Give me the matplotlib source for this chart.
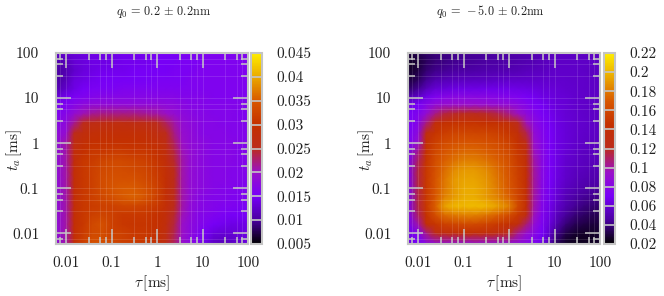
import matplotlib
matplotlib.use('Agg')
import matplotlib.pyplot as plt
from matplotlib.colors import LinearSegmentedColormap
import numpy as np

plt.rcParams['font.family'] = ['cmr10', 'DejaVu Serif']
plt.rcParams['mathtext.fontset'] = 'cm'
plt.rcParams['axes.formatter.use_mathtext'] = True

W, H = 664, 296
tau_grid = [0.006, 0.01, 0.0151, 0.024, 0.038, 0.0631, 0.1, 0.178, 0.316, 0.562, 1,
            1.58, 2.4, 3.55, 5.25, 7.94, 11.2, 17.8, 28.2, 44.7, 70.8, 100]
ta_grid = [100, 63.1, 39.8, 25.1, 15.8, 10.6, 7.08, 4.47, 2.82, 1.67, 1.0, 0.631, 0.398, 0.251,
           0.158, 0.1, 0.0631, 0.0398, 0.0251, 0.0158, 0.01, 0.0058]

# values x 1000, rows from ta = 100 down to ta = 0.0058
left_values = [
 [12.5,13,13,13.5,14,14,14,14.5,14.5,14.5,15,15,15,15.5,15.5,15.5,16,16,16,16,16,16],
 [10.5,11.5,13,13.5,14,14,14,14.5,14.5,14.5,15,15,15,15.5,15.5,15.5,16,16,16,16,16,16],
 [10,11,12.5,13.5,14,14.5,14.5,14.5,15,15,15,15,15.5,15.5,15.5,16,16,16,16,16,16,16],
 [10,11.5,13.5,14,14.5,15,15,15,15,15,15.5,15.5,15.5,15.5,16,16,16,16,16,16,16,16],
 [11,12.5,14,15,15.5,15.5,15.5,16,16,16,16,16,16,16,16,16,16,16,16,16,16,16],
 [13,14.5,15.5,16,16.5,17,17,17,17,17,17,17,17,16.5,16.5,16.5,16.5,16,16,16,16,16],
 [15,16,17,18,18.5,18.5,18.5,18.5,18.5,18.5,18.5,18,18,17.5,17,17,16.5,16.5,16.5,16.5,16.5,16],
 [16,17,19,20.5,21.5,22,22,22,22,21.5,21,20,19,18,17.5,17,17,16.5,16.5,16.5,16,16],
 [17,18,21.5,25,26,26.5,27,27,26.5,26,25,23,21,19,18,17.5,17,17,16.5,16.5,16.5,16],
 [18,19,25,27.5,28.5,29,29,29,29,28.5,27,25,22,19.5,18.5,17.5,17,17,17,16.5,16.5,16.5],
 [18,21,27,29,30,30,30,30,30,29.5,28.5,26.5,23,20,18.5,18,17.5,17,17,17,16.5,16.5],
 [18,21,28,30,31,31,31.5,31.5,31,31,30,27.5,24,20.5,19,18,17.5,17,17,17,16.5,16.5],
 [18,21,28,31,31.5,32.5,33,33,32.5,32,30.5,28,24.5,21,19,18,17.5,17,17,17,16.5,16.5],
 [18,21,28.5,31,32,33,33.5,33.5,33,32.5,31,28.5,25,21,19,18,17.5,17,17,16.5,16.5,16.5],
 [18,21,28.5,31,32,33.5,34,34,34,33,31.5,29,25,21,19,18,17.5,17,17,16.5,16.5,16],
 [18,21,28.5,31,32,33.5,34.5,35,35,34,32,29,25,21,19,18,17.5,17,16.5,16.5,16,16],
 [18,21,28.5,31,32,33,34,35,35.5,34.5,32,29,25,21,19,17.5,17,16.5,16.5,16,16,15.5],
 [18,21,28.5,31,31.5,32,32,32.5,32.5,32,31,28.5,25,21,18.5,17.5,17,16.5,16,16,15.5,15.5],
 [18,21,29,31,32,32.5,32,31,31,31,30,28,24.5,20.5,18.5,17,16.5,16,15.5,15,15,15],
 [18,21,29,31,33,34,32,31,30.5,30.5,30,27.5,24,20,18,17,16,15,14.5,14,14,14],
 [18,21,29,31.5,33,33.5,32,32,31,31,29.5,27,23.5,20,18,16.5,15,13.5,13,13,13.5,14],
 [18,21,29,32,34,34,33,32,31.5,31,29,26.5,23,19.5,17.5,16,14,12,11.5,12,13,13.5],
]

# values x 100
right_values = [
 [3,3.3,3.6,3.9,4.1,4.2,4.3,4.4,4.5,4.6,4.7,4.8,4.9,5,5.2,5.3,5.4,5.5,5.5,5.5,5.5,5.5],
 [2.6,3,3.5,3.9,4.1,4.3,4.4,4.5,4.6,4.7,4.8,4.9,5,5.1,5.3,5.5,5.6,5.6,5.6,5.6,5.6,5.5],
 [2.7,3.1,3.8,4.2,4.4,4.6,4.7,4.8,4.9,5,5.1,5.2,5.3,5.4,5.5,5.6,5.7,5.7,5.7,5.6,5.5,5.5],
 [3,3.5,4.3,4.9,5.2,5.3,5.4,5.5,5.5,5.6,5.7,5.7,5.7,5.7,5.8,5.8,5.8,5.8,5.7,5.7,5.6,5.5],
 [3.7,4.4,5.3,6,6.2,6.4,6.5,6.5,6.6,6.6,6.6,6.5,6.4,6.3,6.2,6.1,6,5.9,5.8,5.7,5.6,5.5],
 [5,5.7,6.6,7.5,8,8.2,8.2,8.2,8.1,7.9,7.7,7.4,7.1,6.8,6.5,6.3,6.1,6,5.8,5.7,5.6,5.5],
 [6.4,7,8,8.8,9.2,9.4,9.4,9.4,9.2,9,8.8,8.4,7.8,7.3,6.9,6.5,6.2,6,5.8,5.7,5.6,5.5],
 [7,7.6,9,10.5,11.5,11.8,12,12,11.8,11.3,10.5,9.6,8.6,7.8,7.2,6.7,6.3,6,5.9,5.7,5.6,5.5],
 [7,8,10.5,13.5,14.3,14.6,14.7,14.7,14.5,14.2,13.7,12,9.8,8.4,7.5,6.9,6.4,6.1,5.9,5.8,5.6,5.5],
 [7,8.5,13,14.8,15.3,15.7,15.8,15.8,15.7,15.4,14.8,13.6,11.3,8.9,7.8,7,6.5,6.1,5.9,5.7,5.6,5.5],
 [7,9.5,14.2,15.5,16.2,16.6,16.8,16.8,16.6,16.2,15.5,14.4,12.5,9.4,8,7.1,6.5,6.1,5.8,5.6,5.5,5.4],
 [7,10.5,14.6,16,16.8,17.3,17.5,17.5,17.2,16.7,16,14.9,13.3,9.7,8.1,7.1,6.5,6,5.7,5.5,5.4,5.3],
 [7,11,14.8,16.3,17.2,17.8,18.2,18.2,17.8,17.2,16.4,15.2,13.7,10,8.2,7.1,6.5,5.9,5.6,5.4,5.3,5.2],
 [7,11.5,15,16.5,17.6,18.6,19,19,18.5,17.6,16.6,15.4,13.9,10.2,8.2,7.1,6.4,5.8,5.5,5.3,5.1,5],
 [7,11.5,15,16.7,17.9,19,19.3,19.3,18.8,17.8,16.7,15.5,14,10.2,8.2,7,6.3,5.7,5.3,5.1,4.9,4.8],
 [7,11.5,15,16.8,18,19,19.5,19.5,19,18,16.9,15.6,14,10.2,8.1,6.9,6.2,5.5,5.1,4.8,4.6,4.5],
 [7,11.5,15,16.9,18.2,19.1,19.6,19.6,19,18.2,17.2,15.7,14,10.1,8,6.8,6,5.2,4.7,4.4,4.2,4.1],
 [7,11.5,15,17.2,19.2,20,20,20.2,20,19.2,18.2,16,14,10,7.9,6.6,5.7,4.9,4.4,4,3.8,3.7],
 [7,11,14.6,16.3,17.6,18,18.2,18.2,17.8,17.2,16.2,15,13,9.7,7.7,6.4,5.4,4.5,3.9,3.6,3.4,3.3],
 [6.8,10,13.8,14.8,15.5,15.8,16,16,15.6,15,14.3,13.2,10.8,9,7.4,6.1,4.9,3.9,3.4,3.1,3,3],
 [6.6,7.5,10.5,12.5,13.3,13.7,13.9,13.9,13.6,13,12,10.3,9.2,8.2,7,5.6,4.2,3.2,2.8,2.7,2.7,2.8],
 [6.5,7,8,8.5,8.8,9,9,9,9,8.9,8.6,8.4,8,7.4,6.5,5,3.4,2.6,2.4,2.5,2.6,2.7],
]

left_ticks = [0.005, 0.01, 0.015, 0.02, 0.025, 0.03, 0.035, 0.04, 0.045]
left_tick_labels = ['0.005', '0.01', '0.015', '0.02', '0.025', '0.03', '0.035', '0.04', '0.045']
right_ticks = [0.02, 0.04, 0.06, 0.08, 0.1, 0.12, 0.14, 0.16, 0.18, 0.2, 0.22]
right_tick_labels = ['0.02', '0.04', '0.06', '0.08', '0.1', '0.12', '0.14', '0.16', '0.18', '0.2', '0.22']
major_ticks = [0.01, 0.1, 1, 10, 100]
major_labels = ['0.01', '0.1', '1', '10', '100']
minor_mult = [3.16, 5.62, 7.5]
minor_decades = [0.001, 0.01, 0.1, 1, 10]
minor_ticks = [d * m for d in minor_decades for m in minor_mult]
minor_ticks = [v for v in minor_ticks if v > 0.0065]

cmap = LinearSegmentedColormap.from_list('pal', [
    (0.0, '#000000'), (0.125, '#4a00a0'), (0.25, '#7800f8'), (0.375, '#9a10c8'),
    (0.5, '#bc2c1c'), (0.625, '#c43000'), (0.75, '#d85800'), (0.875, '#eaa800'), (1.0, '#ffee00')], N=256)

GREY = '#c4c4c4'
TXT = '#222222'


def box(l, t, r, b):
    return [l / W, 1 - b / H, (r - l) / W, (b - t) / H]


def panel(ax_box, cax_box, Z, scale, vmin, vmax, ticks, tick_labels):
    ax = fig.add_axes(box(*ax_box))
    cax = fig.add_axes(box(*cax_box))
    X, Y = np.meshgrid(tau_grid, ta_grid)
    m = ax.pcolormesh(X, Y, np.array(Z) * scale, cmap=cmap, vmin=vmin, vmax=vmax,
                      shading='gouraud', rasterized=True)
    ax.set_xscale('log')
    ax.set_yscale('log')
    ax.set_xticks(major_ticks, major_labels)
    ax.set_yticks(major_ticks, major_labels)
    ax.set_xticks(minor_ticks, [], minor=True)
    ax.set_yticks(minor_ticks, [], minor=True)
    ax.set_xlim(0.006, 100)
    ax.set_ylim(0.0058, 100)
    ax.tick_params(which='major', direction='in', length=10.5, width=1.1, color=GREY,
                   top=True, right=True, labelsize=11, labelcolor=TXT)
    ax.tick_params(which='minor', direction='in', length=5, width=1.1, color=GREY,
                   top=True, right=True)
    ax.tick_params(axis='x', which='major', pad=9)
    ax.tick_params(axis='y', which='major', pad=12)
    ax.grid(True, which='both', color='white', alpha=0.12, lw=0.7)
    ax.set_axisbelow(False)
    for s in ax.spines.values():
        s.set_color(GREY)
        s.set_linewidth(1.5)
    ax.set_xlabel(r'$\tau\,[\mathrm{ms}]$', fontsize=11, color=TXT)
    ax.set_ylabel(r'$t_a\,[\mathrm{ms}]$', fontsize=11, color=TXT)
    ax.xaxis.set_label_coords(0.5, -39 / 191, transform=ax.transAxes)
    ax.yaxis.set_label_coords(-42 / 192, 0.49, transform=ax.transAxes)
    ax.xaxis.label.set_va('center')
    ax.yaxis.label.set_va('center')

    cb = fig.colorbar(m, cax=cax, ticks=ticks)
    cb.ax.set_yticklabels(tick_labels)
    cb.ax.tick_params(length=0, pad=10, labelsize=11, labelcolor=TXT)
    cb.ax.hlines(ticks, 0, 1, transform=cb.ax.get_yaxis_transform(), colors=GREY, lw=1.2)
    cb.outline.set_edgecolor(GREY)
    cb.outline.set_linewidth(1.5)


fig = plt.figure(figsize=(W / 100, H / 100), dpi=100)
panel((56, 53, 248, 244), (251, 53, 262, 244), left_values, 0.001, 0.005, 0.045, left_ticks, left_tick_labels)
panel((408, 53, 600, 244), (604, 53, 615, 244), right_values, 0.01, 0.02, 0.22, right_ticks, right_tick_labels)
fig.text(164 / W, 1 - 12 / H, r'$q_0\,=\,0.2\,\pm\,0.2\mathrm{nm}$', ha='center', va='center', fontsize=8.8, color=TXT)
fig.text(490 / W, 1 - 12 / H, r'$q_0\,=\,-5.0\,\pm\,0.2\mathrm{nm}$', ha='center', va='center', fontsize=8.8, color=TXT)
fig.savefig('out.png', dpi=100)
